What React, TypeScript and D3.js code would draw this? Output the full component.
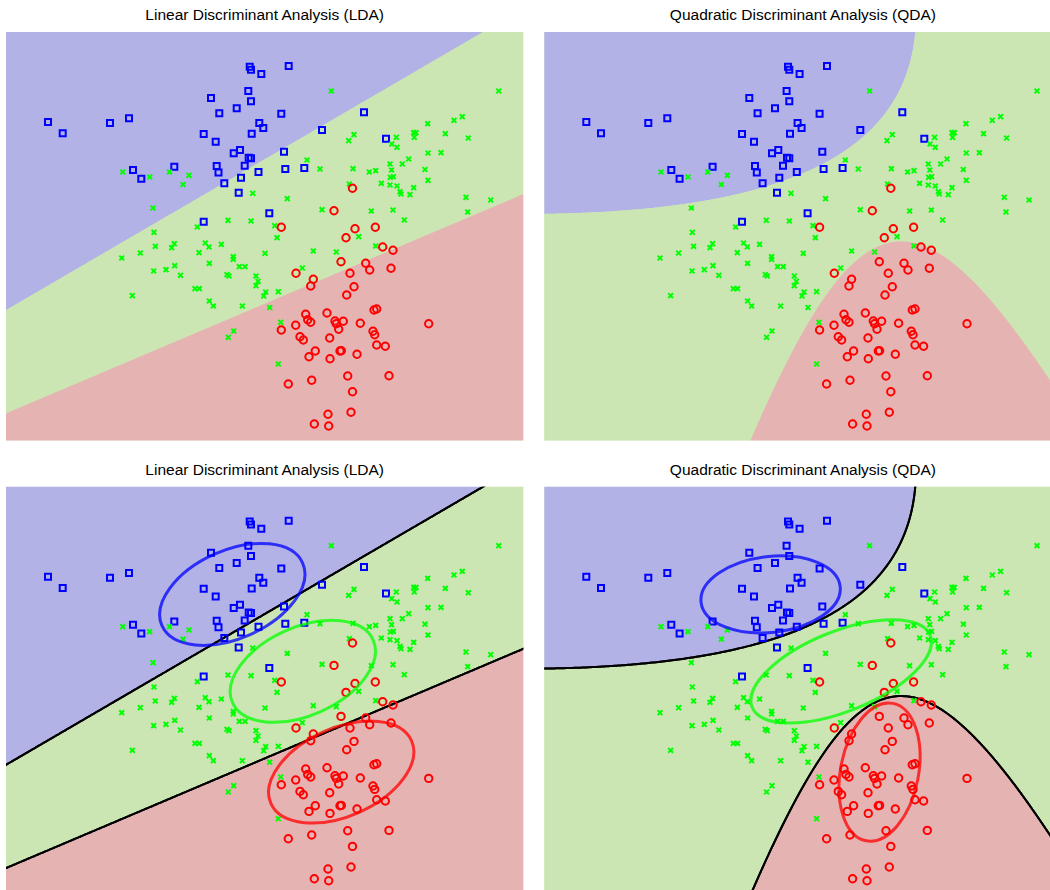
import React, { useEffect, useRef } from 'react';
import * as D3 from 'd3';

// samples per class, [x, y] in data units
const bluePoints: [number, number][] = [
    [0.42, 3.18], [0.567, 3.067], [1.04, 3.17], [1.23, 3.217], [1.27, 2.70], [1.683, 2.733],
    [1.353, 2.613], [2.437, 3.733], [2.45, 3.703], [2.553, 3.66], [2.827, 3.74], [2.423, 3.49],
    [2.05, 3.42], [2.45, 3.387], [2.307, 3.317], [2.133, 3.267], [2.753, 3.263], [2.533, 3.17],
    [2.573, 3.12], [1.977, 3.06], [2.457, 3.063], [2.097, 2.983], [3.16, 3.10], [2.34, 2.90],
    [2.277, 2.867], [2.78, 2.883], [2.427, 2.823], [2.45, 2.817], [2.387, 2.743], [2.107, 2.74],
    [2.125, 2.675], [2.525, 2.68], [2.793, 2.71], [2.983, 2.72], [2.183, 2.567], [2.35, 2.623],
    [2.327, 2.473], [2.633, 2.267], [1.977, 2.183], [3.58, 3.277], [3.80, 3.013],
];

const greenPoints: [number, number][] = [
    [1.167, 2.68], [1.635, 2.68], [3.253, 3.49], [3.48, 3.053], [3.427, 2.993], [3.01, 2.80],
    [3.14, 2.71], [3.47, 2.713], [1.437, 2.63], [1.77, 2.555], [1.47, 2.32], [1.48, 2.077],
    [1.493, 1.937], [1.683, 1.963], [1.657, 1.923], [1.343, 1.87], [1.157, 1.82], [1.477, 1.69],
    [1.60, 1.703], [1.687, 1.743], [1.745, 1.647], [1.263, 1.443], [1.83, 2.647], [2.467, 2.467],
    [3.433, 2.56], [2.813, 2.413], [3.16, 2.303], [1.913, 2.13], [2.22, 2.197], [2.45, 2.19],
    [2.687, 2.143], [2.71, 2.023], [1.993, 1.97], [2.03, 1.93], [2.153, 1.957], [1.93, 1.873],
    [2.273, 1.833], [2.273, 1.807], [2.59, 1.867], [3.073, 1.89], [3.303, 1.88], [2.033, 1.767],
    [2.333, 1.733], [2.39, 1.733], [2.963, 1.72], [2.21, 1.653], [2.23, 1.64], [2.50, 1.64],
    [2.52, 1.587], [2.50, 1.543], [1.89, 1.513], [1.933, 1.513], [2.597, 1.48], [2.723, 1.483],
    [2.577, 1.44], [2.033, 1.39], [2.073, 1.34], [2.363, 1.34], [2.637, 1.325], [4.927, 3.49],
    [4.217, 3.163], [4.48, 3.197], [4.563, 3.233], [3.903, 3.027], [3.857, 2.96], [3.91, 2.927],
    [4.077, 3.073], [4.10, 3.073], [4.083, 3.027], [4.393, 3.063], [4.623, 3.02], [4.22, 2.87],
    [4.35, 2.873], [4.027, 2.81], [3.963, 2.76], [3.84, 2.76], [4.19, 2.705], [3.855, 2.70],
    [3.633, 2.68], [3.697, 2.693], [3.843, 2.627], [3.873, 2.633], [3.753, 2.567], [3.84, 2.55],
    [3.91, 2.54], [4.077, 2.523], [4.22, 2.597], [3.94, 2.483], [3.95, 2.46], [4.04, 2.453],
    [4.60, 2.427], [4.847, 2.40], [4.617, 2.28], [3.653, 2.29], [3.87, 2.30], [3.983, 2.20],
    [3.527, 2.033], [3.697, 1.94], [2.747, 1.177], [2.277, 1.09], [2.223, 1.027], [2.723, 0.76],
];

const redPoints: [number, number][] = [
    [3.465, 2.517], [3.28, 2.293], [2.753, 2.127], [3.49, 2.112], [3.40, 2.023], [3.35, 1.783],
    [2.90, 1.667], [3.44, 1.667], [3.073, 1.607], [3.047, 1.54], [3.48, 1.533], [3.407, 1.45],
    [3.693, 2.127], [3.767, 1.93], [3.87, 1.897], [3.597, 1.767], [3.637, 1.70], [3.85, 1.717],
    [3.68, 1.30], [3.707, 1.31], [2.997, 1.257], [3.21, 1.27], [3.017, 1.203], [3.047, 1.177],
    [2.753, 1.10], [2.897, 1.147], [3.29, 1.19], [3.303, 1.163], [3.373, 1.187], [3.327, 1.107],
    [2.94, 1.033], [2.973, 1.00], [3.237, 1.02], [3.093, 0.89], [3.03, 0.833], [3.24, 0.813],
    [3.34, 0.89], [3.353, 0.893], [3.51, 0.857], [3.417, 0.64], [2.823, 0.56], [3.057, 0.597],
    [3.465, 0.483], [3.22, 0.257], [3.45, 0.277], [3.083, 0.16], [3.227, 0.14], [3.543, 1.167],
    [4.227, 1.163], [3.67, 1.087], [3.687, 1.053], [3.707, 0.95], [3.793, 0.937], [3.83, 0.643],
];

// shared LDA gaussian (std along major / minor axis, angle of major axis in degrees)
const ldaSd = [0.77, 0.44];
const ldaAngle = 24;
// ellipses drawn on the QDA panel, one per class
const qdaMajorSd = [0.70, 0.96, 0.70];
const qdaMinorSd = [0.38, 0.40, 0.39];
const qdaAngle = [6.5, 22, 79];

const titles = ['Linear Discriminant Analysis (LDA)', 'Quadratic Discriminant Analysis (QDA)'];

const xDomain = [0, 5.173];
const yDomain = [-0.005, 4.08];

const dimensions = {
    width: 1050,
    height: 890,
    panelWidth: 517.3,
    panelHeight: 408.5,
};

const panels = [
    { x: 6, y: 32, model: 'lda', ellipses: false },
    { x: 544.3, y: 32, model: 'qda', ellipses: false },
    { x: 6, y: 486.7, model: 'lda', ellipses: true },
    { x: 544.3, y: 486.7, model: 'qda', ellipses: true },
];

const classStyle = [
    { color: '#0000ff', region: '#b2b2e6', marker: 'square' },
    { color: '#00ff00', region: '#cce6b3', marker: 'x' },
    { color: '#ff0000', region: '#e6b3b3', marker: 'circle' },
];

const step = 0.02;
const pad = 0.1;

type Cov = [number, number, number]; // xx, xy, yy

const covFrom = (sdMajor: number, sdMinor: number, angle: number): Cov => {
    const t = angle * Math.PI / 180;
    const c = Math.cos(t), s = Math.sin(t);
    const a = sdMajor * sdMajor, b = sdMinor * sdMinor;
    return [a * c * c + b * s * s, (a - b) * c * s, a * s * s + b * c * c];
};

const sampleCov = (pts: [number, number][]): Cov => {
    const mx = D3.mean(pts, d => d[0]) as number;
    const my = D3.mean(pts, d => d[1]) as number;
    const n = pts.length - 1;
    return [
        D3.sum(pts, d => (d[0] - mx) * (d[0] - mx)) / n,
        D3.sum(pts, d => (d[0] - mx) * (d[1] - my)) / n,
        D3.sum(pts, d => (d[1] - my) * (d[1] - my)) / n,
    ];
};

const invert = ([a, b, c]: Cov) => {
    const det = a * c - b * b;
    return { inv: [c / det, -b / det, a / det] as Cov, det };
};

const quad = ([a, b, c]: Cov, dx: number, dy: number) => a * dx * dx + 2 * b * dx * dy + c * dy * dy;

const buildModels = () => {
    const samples = [bluePoints, greenPoints, redPoints];
    const N = D3.sum(samples, s => s.length);
    const means = samples.map(s => [D3.mean(s, d => d[0]) as number, D3.mean(s, d => d[1]) as number]);
    const priors = samples.map(s => Math.log(s.length / N));

    const scoresFor = (covs: Cov[]) => covs.map((cov, k) => {
        const { inv, det } = invert(cov);
        const c = priors[k] - 0.5 * Math.log(det);
        return (x: number, y: number) => -0.5 * quad(inv, x - means[k][0], y - means[k][1]) + c;
    });

    const shared = covFrom(ldaSd[0], ldaSd[1], ldaAngle);
    const lda = {
        means,
        scores: scoresFor(means.map(() => shared)),
        ellipse: means.map(() => [ldaSd[0], ldaSd[1], ldaAngle]),
    };
    const qda = {
        means,
        scores: scoresFor(samples.map(sampleCov)),
        ellipse: qdaAngle.map((a, k) => [qdaMajorSd[k], qdaMinorSd[k], a]),
    };
    return { lda, qda } as any;
};

// decision regions on a grid, one contour per class
const regionContours = (scores: ((x: number, y: number) => number)[]) => {
    const gx0 = xDomain[0] - pad, gy0 = yDomain[0] - pad;
    const nx = Math.ceil((xDomain[1] - xDomain[0] + 2 * pad) / step) + 1;
    const ny = Math.ceil((yDomain[1] - yDomain[0] + 2 * pad) / step) + 1;
    const fields = scores.map(() => new Array(nx * ny));
    for (let j = 0; j < ny; j++) {
        for (let i = 0; i < nx; i++) {
            const x = gx0 + i * step, y = gy0 + j * step;
            const s = scores.map(f => f(x, y));
            s.forEach((v, k) => {
                const others = D3.max(s.filter((_, m) => m !== k)) as number;
                fields[k][j * nx + i] = v - others;
            });
        }
    }
    const gen = D3.contours().size([nx, ny]).thresholds([0]);
    return { gx0, gy0, shapes: fields.map(f => gen(f)[0]) };
};

const App = () => {

    const container = useRef(null);

    useEffect(() => {
        if (!container.current) return;
        D3.select(container.current).selectAll('*').remove();

        const models = buildModels();
        const regions: any = {
            lda: regionContours(models.lda.scores),
            qda: regionContours(models.qda.scores),
        };

        const svg = D3.select(container.current)
            .append('svg')
            .attr('width', dimensions.width)
            .attr('height', dimensions.height)
            .style('position', 'absolute')
            .style('left', 0)
            .style('top', 0)
            .style('background', '#fff');

        panels.forEach((p, i) => {
            const xScale = D3.scaleLinear().domain(xDomain).range([p.x, p.x + dimensions.panelWidth]);
            const yScale = D3.scaleLinear().domain(yDomain).range([p.y + dimensions.panelHeight, p.y]);
            const model = models[p.model];
            const reg = regions[p.model];

            svg.append('clipPath').attr('id', `clip${i}`)
                .append('rect')
                .attr('x', p.x).attr('y', p.y)
                .attr('width', dimensions.panelWidth).attr('height', dimensions.panelHeight);

            const ctr = svg.append('g').attr('clip-path', `url(#clip${i})`);

            ctr.append('rect')
                .attr('x', p.x).attr('y', p.y)
                .attr('width', dimensions.panelWidth).attr('height', dimensions.panelHeight)
                .attr('fill', classStyle[1].region);

            const path = D3.geoPath(D3.geoTransform({
                point(gx: number, gy: number) {
                    (this as any).stream.point(xScale(reg.gx0 + (gx - 0.5) * step), yScale(reg.gy0 + (gy - 0.5) * step));
                },
            }));

            ctr.selectAll('path.region')
                .data(reg.shapes)
                .join('path')
                .attr('class', 'region')
                .attr('d', (d: any) => path(d))
                .attr('fill', (_: any, k: number) => classStyle[k].region);

            if (p.ellipses) {
                ctr.selectAll('path.border')
                    .data(reg.shapes)
                    .join('path')
                    .attr('class', 'border')
                    .attr('d', (d: any) => path(d))
                    .attr('fill', 'none')
                    .attr('stroke', 'black')
                    .attr('stroke-width', 2);
            }

            [bluePoints, greenPoints, redPoints].forEach((pts, k) => {
                const st = classStyle[k];
                const g = ctr.append('g');
                if (st.marker === 'circle') {
                    g.selectAll('circle').data(pts).join('circle')
                        .attr('cx', d => xScale(d[0]))
                        .attr('cy', d => yScale(d[1]))
                        .attr('r', 3.7)
                        .attr('fill', 'none')
                        .attr('stroke', st.color)
                        .attr('stroke-width', 2);
                } else {
                    const shape = st.marker === 'square'
                        ? 'M-3,-3h6v6h-6z'
                        : 'M-2.4,-2.4L2.4,2.4M-2.4,2.4L2.4,-2.4';
                    g.selectAll('path').data(pts).join('path')
                        .attr('d', shape)
                        .attr('transform', d => `translate(${xScale(d[0])},${yScale(d[1])})`)
                        .attr('fill', 'none')
                        .attr('stroke', st.color)
                        .attr('stroke-width', 2);
                }
            });

            if (p.ellipses) {
                const kx = xScale(1) - xScale(0);
                const ky = yScale(0) - yScale(1);
                model.ellipse.forEach((e: number[], k: number) => {
                    const cx = xScale(model.means[k][0]);
                    const cy = yScale(model.means[k][1]);
                    ctr.append('ellipse')
                        .attr('cx', cx).attr('cy', cy)
                        .attr('rx', e[0] * kx)
                        .attr('ry', e[1] * ky)
                        .attr('transform', `rotate(${-e[2]},${cx},${cy})`)
                        .attr('fill', 'none')
                        .attr('stroke', classStyle[k].color)
                        .attr('stroke-opacity', 0.75)
                        .attr('stroke-width', 3);
                });
            }

            svg.append('text')
                .attr('x', p.x + dimensions.panelWidth / 2)
                .attr('y', p.y - 12)
                .attr('text-anchor', 'middle')
                .style('font-family', '"Liberation Sans", Arial, sans-serif')
                .style('font-size', '15.5px')
                .attr('fill', '#000')
                .text(titles[i % 2]);
        });

    }, [container.current]);

    return (<div ref={container} />);
};

export default App;
